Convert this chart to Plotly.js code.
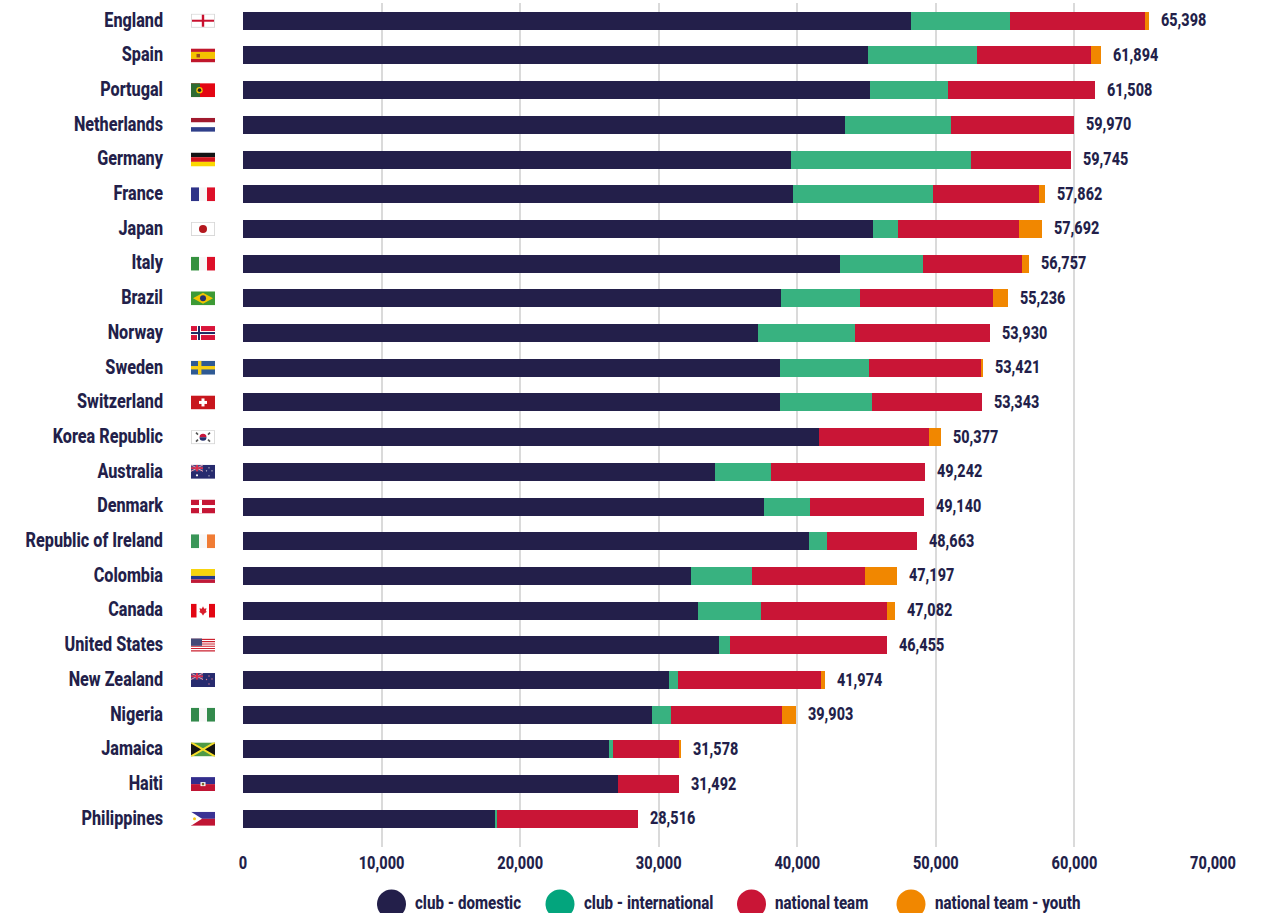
<!DOCTYPE html>
<html>
<head>
<meta charset="utf-8">
<script src="https://cdn.plot.ly/plotly-3.0.1.min.js"></script>
<style>html,body{margin:0;padding:0;background:#fff;overflow:hidden}#chart{width:1262px;height:913px}</style>
</head>
<body>
<div id="chart"></div>
<script>
const countries = ["England","Spain","Portugal","Netherlands","Germany","France","Japan","Italy","Brazil","Norway","Sweden","Switzerland","Korea Republic","Australia","Denmark","Republic of Ireland","Colombia","Canada","United States","New Zealand","Nigeria","Jamaica","Haiti","Philippines"];
const clubDomestic = [48231,45126,45271,43466,39567,39711,45487,43105,38845,37184,38773,38773,41589,34079,37617,40866,32347,32852,34368,30758,29531,26426,27076,18195];
const clubInternational = [7148,7870,5632,7653,12996,10108,1805,5993,5704,7004,6426,6643,0,4043,3321,1300,4404,4549,794,650,1372,289,0,144];
const nationalTeam = [9747,8231,10605,8851,7182,7653,8736,7148,9603,9742,8087,7927,7942,11120,8202,6497,8159,9097,11293,10325,8014,4801,4416,10177];
const nationalYouth = [272,667,0,0,0,390,1664,511,1084,0,135,0,846,0,0,0,2287,584,0,241,986,62,0,0];
const totals = [65398,61894,61508,59970,59745,57862,57692,56757,55236,53930,53421,53343,50377,49242,49140,48663,47197,47082,46455,41974,39903,31578,31492,28516];
const seriesNames = ["club - domestic","club - international","national team","national team - youth"];
const barColors = ["#231f4a","#38b280","#c91536","#f18700"];
const legendColors = ["#231f4a","#03a57d","#c91536","#f18700"];
const legendCircleCentres = [391.5,560,751.5,911];
const legendTextStarts = [414,583,774,934];
const xTicks = [0,10000,20000,30000,40000,50000,60000,70000];

const ink = "#231f4a";
const fontFamily = 'Roboto,"Noto Sans",sans-serif';

const stripesH = (a,b,c,h) => {
  h = h || [14/3,14/3,14/3];
  return `<rect width="24" height="${h[0]}" fill="${a}"/><rect y="${h[0]}" width="24" height="${h[1]}" fill="${b}"/><rect y="${h[0]+h[1]}" width="24" height="${h[2]}" fill="${c}"/>`;
};
const stripesV = (a,b,c) => `<rect width="8" height="14" fill="${a}"/><rect x="8" width="8" height="14" fill="${b}"/><rect x="16" width="8" height="14" fill="${c}"/>`;
const unionBlue = `<rect width="24" height="14" fill="#272b6e"/><rect width="12" height="6.5" fill="#4a4a86"/><path d="M0 0L12 6.5M12 0L0 6.5" stroke="#e8a0b0" stroke-width="1"/><rect x="5" width="2" height="6.5" fill="#d8304e"/><rect y="2.4" width="12" height="1.7" fill="#d8304e"/>`;
const whiteField = `<rect x="0.3" y="0.3" width="23.4" height="13.4" fill="#fff" stroke="#d6d6d6" stroke-width="1.1"/>`;
const flags = {
  "England": whiteField + `<rect x="10.8" y="1" width="2.4" height="12" fill="#c8102e"/><rect x="1" y="6" width="22" height="2" fill="#c8102e"/>`,
  "Spain": stripesH("#c0172c","#f4c300","#c0172c",[3.5,7,3.5]) + `<rect x="5.5" y="5.5" width="3.5" height="3.5" fill="#9a4a20"/>`,
  "Portugal": `<rect width="24" height="14" fill="#e30613"/><rect width="9" height="14" fill="#2e6b32"/><circle cx="8.5" cy="7" r="3.2" fill="#f4c300"/><circle cx="8.5" cy="7" r="1.8" fill="#222"/>`,
  "Netherlands": stripesH("#a11a2e","#fff","#2f3f8a"),
  "Germany": stripesH("#141414","#d2151e","#fbd800"),
  "France": stripesV("#2e3388","#f7f7f7","#dd1029"),
  "Japan": whiteField + `<circle cx="12" cy="7" r="4" fill="#b4181e"/>`,
  "Italy": stripesV("#35913f","#f7f7f7","#dd1029"),
  "Brazil": `<rect width="24" height="14" fill="#3d9a35"/><path d="M12 1.5L22 7L12 12.5L2 7Z" fill="#f1c400"/><circle cx="12" cy="7" r="3" fill="#24306e"/>`,
  "Norway": `<rect width="24" height="14" fill="#d9143a"/><rect x="6" width="4" height="14" fill="#fff"/><rect y="5" width="24" height="4" fill="#fff"/><rect x="7" width="2" height="14" fill="#1f2a64"/><rect y="6" width="24" height="2" fill="#1f2a64"/>`,
  "Sweden": `<rect width="24" height="14" fill="#2f5a94"/><rect x="7" width="3.4" height="14" fill="#f7cf12"/><rect y="5.3" width="24" height="3.4" fill="#f7cf12"/>`,
  "Switzerland": `<rect width="24" height="14" fill="#c8161d"/><rect x="10.5" y="3" width="3" height="8" fill="#fff"/><rect x="8" y="5.5" width="8" height="3" fill="#fff"/>`,
  "Korea Republic": whiteField + `<path d="M8.5 7A3.5 3.5 0 0 1 15.5 7Z" fill="#c8163c"/><path d="M8.5 7A3.5 3.5 0 0 0 15.5 7Z" fill="#24306e"/><path d="M5 2.5L7 4.5M19 2.5L17 4.5M5 11.5L7 9.5M19 11.5L17 9.5" stroke="#555" stroke-width="1.6"/>`,
  "Australia": unionBlue + `<circle cx="6" cy="10.5" r="1.1" fill="#fff"/><circle cx="18" cy="3" r=".7" fill="#ddd"/><circle cx="21" cy="6" r=".7" fill="#ddd"/><circle cx="18" cy="11" r=".7" fill="#ddd"/><circle cx="15.5" cy="6" r=".7" fill="#ddd"/>`,
  "Denmark": `<rect width="24" height="14" fill="#c51635"/><rect x="8" width="3" height="14" fill="#fff"/><rect y="5.5" width="24" height="3" fill="#fff"/>`,
  "Republic of Ireland": stripesV("#3a9658","#f7f7f7","#f07c35"),
  "Colombia": stripesH("#f7d40e","#24388c","#c01a38",[7,3.5,3.5]),
  "Canada": `<rect width="24" height="14" fill="#fff"/><rect width="5.5" height="14" fill="#e30613"/><rect x="18" width="6" height="14" fill="#e30613"/><path d="M12 2.5L13.2 5L15.5 4.5L14.8 7.5L16 8.2L13 10L12.4 11.5L11.6 11.5L11 10L8 8.2L9.2 7.5L8.5 4.5L10.8 5Z" fill="#d81e2c"/>`,
  "United States": `<rect width="24" height="14" fill="#fff"/><path d="M0 1H24M0 3.3H24M0 5.6H24M0 7.9H24M0 10.2H24M0 12.5H24" stroke="#cc2230" stroke-width="1.1"/><rect width="11" height="7.5" fill="#454a78"/>`,
  "New Zealand": unionBlue + `<circle cx="18" cy="3" r=".7" fill="#e08090"/><circle cx="21" cy="6" r=".7" fill="#e08090"/><circle cx="18" cy="11" r=".7" fill="#e08090"/><circle cx="15.5" cy="6.5" r=".7" fill="#e08090"/>`,
  "Nigeria": stripesV("#338a4c","#f7f7f7","#338a4c"),
  "Jamaica": `<rect width="24" height="14" fill="#4f9a45"/><path d="M0 0L12 7L0 14ZM24 0L12 7L24 14Z" fill="#141414"/><path d="M0 0L24 14M24 0L0 14" stroke="#f5dc2a" stroke-width="2"/>`,
  "Haiti": stripesH("#322d8c","#322d8c","#c01534",[7,0,7]) + `<rect x="9.5" y="5" width="5" height="4" fill="#fff"/><rect x="10.8" y="5.8" width="2.4" height="2.4" fill="#7a6a30"/>`,
  "Philippines": stripesH("#3a3294","#3a3294","#c01534",[7,0,7]) + `<path d="M0 0L11 7L0 14Z" fill="#fff"/><circle cx="3.5" cy="7" r="1.5" fill="#f5c71a"/>`
};

const flagUri = name => "data:image/svg+xml;charset=utf-8," + encodeURIComponent(
  `<svg xmlns="http://www.w3.org/2000/svg" viewBox="0 0 24 14" width="96" height="56" preserveAspectRatio="none">${flags[name]}</svg>`);

const L = 243, R = 1213, T = 3, B = 847;
const W = R - L, H = B - T;
const fx = px => (px - L) / W;
const fy = py => (B - py) / H;

const traces = [clubDomestic,clubInternational,nationalTeam,nationalYouth].map((vals,i) => ({
  type: "bar", orientation: "h", name: seriesNames[i], x: vals, y: countries,
  marker: {color: barColors[i], line: {width: 0}}, hoverinfo: "x+y+name"
}));

const boldFont = size => ({family: fontFamily, size: size, color: ink, weight: 800});

const totalLabels = countries.map((c,i) => ({
  xref: "x", yref: "y", x: totals[i], y: c, text: totals[i].toLocaleString("en-US"),
  showarrow: false, xanchor: "left", yanchor: "middle", align: "left", xshift: 11, yshift: 1,
  font: boldFont(18), borderpad: 0
}));
const legendLabels = seriesNames.map((s,i) => ({
  xref: "paper", yref: "paper", x: fx(legendTextStarts[i]), y: fy(902), text: s,
  showarrow: false, xanchor: "left", yanchor: "middle", align: "left", borderpad: 0,
  font: boldFont(18)
}));
const legendCircles = seriesNames.map((s,i) => ({
  type: "circle", xref: "paper", yref: "paper", layer: "above",
  x0: fx(legendCircleCentres[i]-14.5), x1: fx(legendCircleCentres[i]+14.5),
  y0: fy(904-14.5), y1: fy(904+14.5),
  fillcolor: legendColors[i], line: {width: 0}
}));
const rowPitch = H / 24.323;
const flagImages = countries.map(c => ({
  source: flagUri(c), xref: "paper", yref: "y",
  x: fx(191), y: c, sizex: 24/W, sizey: 14/rowPitch,
  xanchor: "left", yanchor: "middle", sizing: "stretch", layer: "above"
}));

const layout = {
  width: 1262, height: 913,
  margin: {l: L, r: 1262-R, t: T, b: 913-B, pad: 0},
  paper_bgcolor: "#fff", plot_bgcolor: "#fff",
  barmode: "stack", bargap: 0.48, showlegend: false,
  font: {family: fontFamily, color: ink},
  xaxis: {
    range: [0,70000], tickvals: xTicks, ticktext: xTicks.map(v => v.toLocaleString("en-US")),
    showgrid: true, gridcolor: "#dadada", gridwidth: 2, zeroline: false, showline: false, ticks: "",
    ticklabelstandoff: 3, tickfont: boldFont(18)
  },
  yaxis: {
    type: "category", categoryorder: "array", categoryarray: countries,
    range: [23.812,-0.511], showgrid: false, zeroline: false, showline: false, ticks: "",
    ticklabelstandoff: 79, tickfont: boldFont(19.5)
  },
  annotations: totalLabels.concat(legendLabels),
  shapes: legendCircles,
  images: flagImages
};

function condense(selector, factor, dy) {
  document.querySelectorAll(selector).forEach(el => {
    const len = el.getComputedTextLength();
    el.setAttribute("textLength", (len * factor).toFixed(2));
    el.setAttribute("lengthAdjust", "spacingAndGlyphs");
    if (dy) el.setAttribute("y", parseFloat(el.getAttribute("y") || 0) + dy);
  });
}

Plotly.newPlot("chart", traces, layout, {displayModeBar: false, responsive: false}).then(() => {
  condense("#chart .ytick text", 0.83, -1);
  condense("#chart .xtick text", 0.81, 0);
  document.querySelectorAll("#chart .annotation-text").forEach(el => {
    const isLegend = seriesNames.includes(el.textContent);
    const len = el.getComputedTextLength();
    el.setAttribute("textLength", (len * (isLegend ? 0.84 : 0.80)).toFixed(2));
    el.setAttribute("lengthAdjust", "spacingAndGlyphs");
  });
});
</script>
</body>
</html>
